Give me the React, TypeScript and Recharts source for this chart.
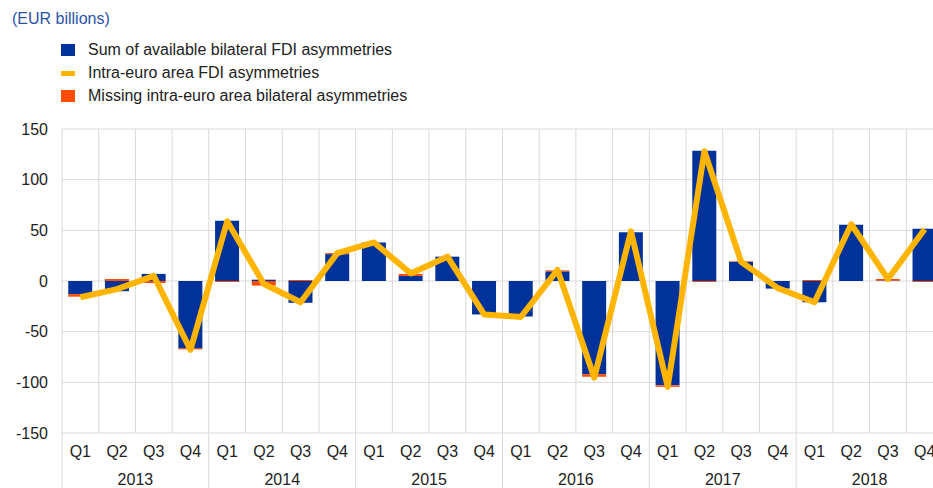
import { ComposedChart, Bar, Line, XAxis, YAxis, CartesianGrid } from "recharts";

const years = ["2013", "2014", "2015", "2016", "2017", "2018"];
const quarters = ["Q1", "Q2", "Q3", "Q4"];
const bilateral = [-13, -10, 7, -66.5, 59.5, 1.3, -21.5, 26.5, 38, 5, 24, -33, -35, 9.5, -92, 48, -103, 128.5, 19, -7.5, -21, 55.5, 0.5, 51.5];
const missing = [-2.5, 2, -2, -1, -1, -4.5, 1, 1, 0, 2, 0, 0, 0, 1, -2.5, 0, -1.5, -1, 0.5, 0, 1, 0, 1.5, -1];
const intra = [-16, -8, 5, -68, 59, -3, -21, 27.5, 38, 7.5, 24, -33, -35.5, 11, -95.5, 49, -104.5, 128, 19, -7, -21, 56, 2, 51];
const yTicks = [-150, -100, -50, 0, 50, 100, 150];

const BLUE = "#003299";
const YELLOW = "#ffb400";
const ORANGE = "#ff4b00";
const GRID = "#d9d9d9";
const FONT = "'Liberation Sans', Arial, sans-serif";

const legendItems = [
  { label: "Sum of available bilateral FDI asymmetries", color: BLUE, kind: "box" },
  { label: "Intra-euro area FDI asymmetries", color: YELLOW, kind: "line" },
  { label: "Missing intra-euro area bilateral asymmetries", color: ORANGE, kind: "box" },
];

const data = years.flatMap((yr, yi) =>
  quarters.map((q, qi) => {
    const i = yi * 4 + qi;
    return { key: `${yr}-${q}`, q, yr, bilateral: bilateral[i], missing: missing[i], intra: intra[i] };
  })
);

const CHART_W = 943;
const CHART_H = 488;
const TOP = 129;
const XAXIS_H = 55;
const YAXIS_W = 62;
const PLOT_BOTTOM = CHART_H - XAXIS_H;
const BAND = (CHART_W - YAXIS_W) / data.length;

function QuarterTick(props: any) {
  const { x, index } = props;
  const row = data[index];
  return (
    <g>
      <text x={x} y={PLOT_BOTTOM + 24} textAnchor="middle" fontSize={16} fill="#222" fontFamily={FONT}>
        {row ? row.q : ""}
      </text>
      {index % 4 === 0 && (
        <line x1={x - BAND / 2} x2={x - BAND / 2} y1={PLOT_BOTTOM} y2={CHART_H} stroke={GRID} strokeWidth={1} />
      )}
      {index % 4 === 1 && (
        <text x={x + BAND / 2} y={PLOT_BOTTOM + 52} textAnchor="middle" fontSize={16} fill="#222" fontFamily={FONT}>
          {row ? row.yr : ""}
        </text>
      )}
    </g>
  );
}

export default function App() {
  return (
    <div style={{ position: "absolute", left: 0, top: 0, width: 933, height: 488, overflow: "hidden", background: "#fff", fontFamily: FONT }}>
      <div style={{ position: "absolute", left: 12, top: 10, fontSize: 16, color: "#2a52a8" }}>(EUR billions)</div>
      {legendItems.map((it, i) => (
        <div key={it.label} style={{ position: "absolute", left: 61, top: 40 + i * 23, height: 20, display: "flex", alignItems: "center" }}>
          <span
            style={{
              display: "inline-block",
              width: 14,
              height: it.kind === "box" ? 12 : 5,
              background: it.color,
              marginRight: 13,
            }}
          />
          <span style={{ fontSize: 16, color: "#222" }}>{it.label}</span>
        </div>
      ))}
      <ComposedChart
        width={CHART_W}
        height={CHART_H}
        data={data}
        stackOffset="sign"
        barCategoryGap="17%"
        margin={{ top: TOP, right: 0, bottom: 0, left: 0 }}
      >
        <CartesianGrid
          stroke={GRID}
          strokeWidth={1}
          verticalCoordinatesGenerator={({ offset }: any) =>
            data.map((_, i) => offset.left + (i * offset.width) / data.length).concat([offset.left + offset.width])
          }
        />
        <XAxis
          dataKey="key"
          height={XAXIS_H}
          axisLine={false}
          tickLine={false}
          interval={0}
          tick={<QuarterTick />}
        />
        <YAxis
          width={YAXIS_W}
          domain={[-150, 150]}
          ticks={yTicks}
          axisLine={false}
          tickLine={false}
          tickMargin={8}
          tick={{ fontSize: 16, fill: "#222", fontFamily: FONT }}
        />
        <Bar dataKey="bilateral" stackId="a" fill={BLUE} isAnimationActive={false} />
        <Bar dataKey="missing" stackId="a" fill={ORANGE} isAnimationActive={false} />
        <Line
          dataKey="intra"
          type="linear"
          stroke={YELLOW}
          strokeWidth={6}
          strokeLinejoin="round"
          dot={false}
          activeDot={false}
          isAnimationActive={false}
        />
      </ComposedChart>
    </div>
  );
}
